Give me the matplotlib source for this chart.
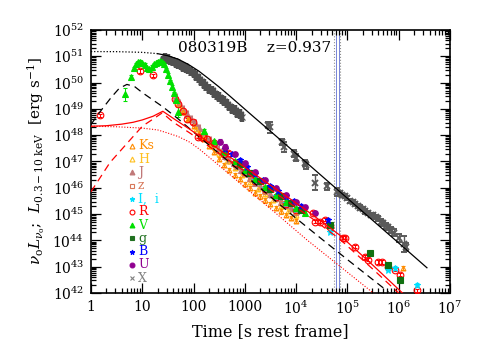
import numpy as np
import matplotlib
matplotlib.use('Agg')
import matplotlib.pyplot as plt

plt.rcParams['font.family'] = 'DejaVu Serif'
plt.rcParams['mathtext.fontset'] = 'dejavuserif'

# ---- data (log10 time [s], log10 luminosity [erg/s]) ----
# X-ray, early dense band
xe_lt = [1.40, 1.45, 1.50, 1.55, 1.60, 1.65, 1.70, 1.75, 1.80, 1.85, 1.90, 1.95, 2.00, 2.05, 2.10, 2.15,
         2.20, 2.25, 2.30, 2.35, 2.40, 2.45, 2.50, 2.55, 2.60, 2.65, 2.70, 2.75, 2.80, 2.85, 2.90, 2.95]
xe_ll = [50.85, 50.95, 50.90, 50.85, 50.80, 50.75, 50.70, 50.65, 50.60, 50.55, 50.50, 50.42, 50.35, 50.25, 50.15, 50.05,
         49.95, 49.85, 49.75, 49.70, 49.60, 49.50, 49.45, 49.35, 49.30, 49.20, 49.10, 49.00, 48.95, 48.85, 48.80, 48.70]
# X-ray, later points
xl_lt = [3.45, 3.50, 3.72, 3.76, 3.96, 4.00, 4.17, 4.20, 4.37, 4.60, 4.80,
         4.85, 4.90, 4.95, 5.00, 5.05, 5.10, 5.15, 5.20, 5.25, 5.30, 5.35, 5.40, 5.45, 5.50, 5.55, 5.60,
         5.65, 5.70, 5.75, 5.80, 5.85, 5.90, 6.00, 6.10, 6.15]
xl_ll = [48.40, 48.30, 47.75, 47.55, 47.30, 47.15, 46.95, 46.85, 46.20, 46.05, 45.85,
         45.80, 45.72, 45.68, 45.60, 45.50, 45.45, 45.38, 45.30, 45.25, 45.18, 45.10, 45.05, 44.98, 44.95, 44.88, 44.82,
         44.70, 44.65, 44.55, 44.50, 44.40, 44.30, 44.10, 43.85, 43.75]
xl_err = [0.12, 0.2, 0.12, 0.2, 0.12, 0.12, 0.12, 0.12, 0.3, 0.12, 0.15,
          0.08, 0.08, 0.08, 0.08, 0.08, 0.08, 0.08, 0.08, 0.08, 0.08, 0.08, 0.08, 0.08, 0.08, 0.08, 0.1,
          0.1, 0.1, 0.1, 0.1, 0.1, 0.12, 0.15, 0.3, 0.15]

# optical / NIR filters
ks_lt = [1.7, 1.8, 1.9, 2.0, 2.1, 2.2, 2.3, 2.4, 2.5, 2.6, 2.7, 2.8, 2.9, 3.0, 3.1, 3.2,
         3.3, 3.4, 3.5, 3.6, 3.7, 3.8, 3.9, 4.0, 6.08]
ks_ll = [49.2, 48.9, 48.6, 48.35, 48.1, 47.85, 47.6, 47.35, 47.1, 46.87, 46.67, 46.5, 46.32, 46.15, 45.98, 45.82,
         45.67, 45.52, 45.38, 45.23, 45.1, 44.97, 44.85, 44.75, 42.95]
h_lt = [1.75, 1.9, 2.05, 2.2, 2.35, 2.5, 2.65, 2.8, 2.95, 3.1, 3.25, 3.4, 3.55, 3.7, 3.85, 4.0]
h_ll = [49.0, 48.6, 48.23, 47.9, 47.6, 47.3, 47.01, 46.75, 46.49, 46.23, 45.97, 45.75, 45.53, 45.32, 45.13, 44.95]
j_lt = [1.65, 1.72, 1.8, 1.88, 1.95, 2.02, 2.1, 2.18, 2.25, 2.32, 2.4, 2.48, 2.55, 2.62, 2.7,
        2.78, 2.85, 2.92, 3.0, 3.1, 3.2, 3.3, 3.4, 3.5, 3.6, 3.7, 3.8, 3.9, 4.0]
j_ll = [49.45, 49.24, 49.0, 48.8, 48.62, 48.45, 48.27, 48.1, 47.95, 47.81, 47.65, 47.49, 47.35, 47.21, 47.07,
        46.93, 46.81, 46.69, 46.55, 46.38, 46.2, 46.05, 45.9, 45.75, 45.6, 45.47, 45.35, 45.22, 45.1]
z_lt = [2.5, 2.8, 3.1, 3.4, 3.7, 4.0]
z_ll = [47.4, 46.85, 46.33, 45.85, 45.42, 45.05]
i_lt = [3.0, 3.2, 3.4, 3.6, 3.8, 4.0, 4.66, 5.79, 5.93, 6.36]
i_ll = [46.63, 46.28, 45.98, 45.68, 45.43, 45.18, 44.33, 42.88, 42.95, 42.31]
r_lt = [0.175, 0.955, 1.21, 1.64, 1.70, 1.79, 1.87, 1.99, 2.09, 2.18, 2.26, 2.4, 2.6, 2.67, 2.8, 3.0, 3.2, 3.4,
        3.6, 3.8, 4.0, 4.33, 4.37, 4.46, 4.56, 4.62, 4.66, 4.91, 4.95, 5.15, 5.34, 5.40, 5.60, 5.67, 5.79,
        5.93, 6.02, 6.36]
r_ll = [48.76, 50.44, 50.28, 49.37, 49.18, 48.91, 48.6, 48.49, 47.95, 47.92, 47.84, 47.70, 47.30, 47.34, 46.95,
        46.60, 46.25, 45.95, 45.65, 45.40, 45.15, 45.05, 44.71, 44.71, 44.79, 44.60, 44.52, 44.10, 44.10, 43.76,
        43.37, 43.26, 43.18, 43.18, 42.99, 42.88, 42.69, 42.11]
v_lt = [0.66, 0.78, 0.84, 0.88, 0.92, 0.96, 1.0, 1.05, 1.1, 1.14, 1.18, 1.22, 1.26, 1.3, 1.34, 1.38, 1.42,
        1.46, 1.5, 1.54, 1.58, 1.62, 1.66, 1.70, 2.2, 2.4, 2.6, 2.8, 3.0, 3.2, 3.4, 3.6, 3.8, 4.0, 4.17]
v_ll = [49.56, 50.2, 50.55, 50.7, 50.78, 50.8, 50.75, 50.68, 50.55, 50.5, 50.6, 50.7, 50.75, 50.8, 50.82, 50.78,
        50.7, 50.5, 50.3, 50.05, 49.85, 49.6, 49.35, 48.9, 48.17, 47.77, 47.37, 47.02, 46.67, 46.32, 46.02,
        45.72, 45.47, 45.22, 45.05]
v_err = [0.25, 0.08, 0.05, 0.05, 0.05, 0.05, 0.05, 0.05, 0.05, 0.05, 0.05, 0.05, 0.05, 0.05, 0.05, 0.05, 0.05,
         0.05, 0.05, 0.05, 0.05, 0.05, 0.05, 0.2, 0.05, 0.05, 0.05, 0.05, 0.05, 0.05, 0.05, 0.05, 0.05, 0.05, 0.05]
g_lt = [2.9, 3.1, 3.3, 3.5, 3.7, 3.9, 4.1, 4.66, 5.44, 5.79, 6.02]
g_ll = [46.92, 46.58, 46.25, 45.95, 45.67, 45.42, 45.17, 44.6, 43.53, 43.07, 42.5]
b_lt = [2.61, 2.75, 2.9, 3.05, 3.2, 3.35, 3.5, 3.65, 3.8, 3.95, 4.1, 4.62]
b_ll = [47.46, 47.3, 47.04, 46.78, 46.52, 46.29, 46.07, 45.86, 45.67, 45.48, 45.29, 44.79]
u_lt = [2.52, 2.61, 2.8, 3.0, 3.2, 3.4, 3.6, 3.8, 4.0, 4.17, 4.37]
u_ll = [47.76, 47.57, 47.28, 46.93, 46.6, 46.28, 45.98, 45.72, 45.47, 45.28, 45.05]

# model curves
xmod_lt = [0, 0.5, 1.0, 1.3, 1.5, 1.7, 1.9, 2.1, 2.3, 2.5, 2.7, 2.9, 3.2, 3.6, 4.0, 4.5, 5.0, 5.5, 6.0, 6.55]
xmod_ll = [51.18, 51.176, 51.15, 51.10, 51.02, 50.89, 50.69, 50.44, 50.14, 49.83, 49.50, 49.16, 48.65, 47.98,
           47.30, 46.45, 45.60, 44.75, 43.90, 42.96]
kdash_lt = [0, 0.2, 0.4, 0.55, 0.7, 0.85, 1.0, 1.2, 1.4, 1.7, 2.0, 2.5, 3.0, 3.5, 4.0, 4.5, 5.0, 5.5, 5.8]
kdash_ll = [48.41, 48.95, 49.45, 49.78, 49.93, 49.85, 49.62, 49.35, 49.08, 48.62, 48.12, 47.3, 46.48, 45.66,
            44.84, 44.05, 43.27, 42.5, 42.04]
rsol_lt = [0, 0.3, 0.6, 0.82, 1.0, 1.21, 1.4, 1.65, 1.93, 2.5, 3.0, 3.5, 4.0, 4.3, 4.85, 5.5, 6.1]
rsol_ll = [48.34, 48.36, 48.42, 48.49, 48.58, 48.72, 48.91, 48.58, 48.22, 47.45, 46.78, 46.1, 45.42, 45.0,
           44.2, 43.05, 41.95]
rdash_lt = [0, 0.37, 1.0, 1.2, 1.39, 1.6, 1.93, 2.5, 3.0, 3.5, 4.0, 4.3, 4.85, 5.5, 6.08]
rdash_ll = [45.85, 46.96, 48.34, 48.6, 48.85, 48.5, 48.08, 47.3, 46.62, 45.93, 45.25, 44.85, 44.05, 42.9, 41.85]
rdot_lt = [0, 0.5, 1.0, 1.3, 1.5, 1.7, 1.93, 2.12, 2.6, 3.1, 3.6, 4.21, 4.8, 5.44, 5.6]
rdot_ll = [48.34, 48.32, 48.27, 48.2, 48.08, 47.95, 47.73, 47.46, 46.68, 45.86, 45.04, 44.02, 43.1, 42.1, 41.85]

vlines_gray = [5.46e4, 7.1e4]
vlines_blue = [6.1e4, 6.7e4]

legend_labels = ['Ks', 'H', 'J', 'z', 'I,  i', 'R', 'V', 'g', 'B', 'U', 'X']
legend_colors = ['#FF8C00', '#FFC020', '#C07878', '#D8785A', '#00E0FF', '#FF0000',
                 '#00E000', '#207020', '#0000FF', '#900090', '#808080']
legend_markers = ['^', '^', '^', 's', '*', 'o', '^', 's', '*', 'o', 'x']
legend_filled = [False, False, True, False, True, False, True, True, True, True, True]


def dex_err(ll, err):
    ll = np.array(ll, dtype=float)
    e = np.broadcast_to(np.array(err, dtype=float), ll.shape)
    L = 10 ** ll
    return L, [L - 10 ** (ll - e), 10 ** (ll + e) - L]


def plot_set(ax, lt, ll, err, color, marker, ms, filled, lw=0.7, cap=1.2, z=3, mew=0.8):
    L, yerr = dex_err(ll, err)
    ax.errorbar(10 ** np.array(lt), L, yerr=yerr, fmt=marker, color=color, ms=ms,
                mfc=color if filled else 'none', mec=color, mew=mew,
                elinewidth=lw, capsize=cap, zorder=z)


fig = plt.figure(figsize=(4.91, 3.60), dpi=100)
ax = fig.add_axes([0.1853, 0.1861, 0.7312, 0.7306])
ax.set_xscale('log')
ax.set_yscale('log')
ax.set_xlim(1, 1e7)
ax.set_ylim(1e42, 1e52)

# vertical band
for v in vlines_gray:
    ax.axvline(v, color='#909090', ls=':', lw=0.8, zorder=1)
for v in vlines_blue:
    ax.axvline(v, color='#6070D0', ls='-', lw=0.6, zorder=1)

# X-ray data
plot_set(ax, xe_lt, xe_ll, 0.18, '#505050', 'x', 4, True, lw=3.2, cap=0, z=2)
plot_set(ax, xl_lt, xl_ll, xl_err, '#5a5a5a', 'x', 4, True, lw=1.0, cap=2, z=2, mew=1.4)

# model curves
xm_t = 10 ** np.array(xmod_lt)
xm_L = 10 ** np.array(xmod_ll)
ax.plot(xm_t[:4], xm_L[:4], color='k', ls=(0, (1, 1.5)), lw=0.9, zorder=4)
ax.plot(xm_t[3:], xm_L[3:], color='k', ls='-', lw=0.9, zorder=4)
ax.plot(10 ** np.array(kdash_lt), 10 ** np.array(kdash_ll), color='k', ls=(0, (6, 4)), lw=0.9, zorder=4)
ax.plot(10 ** np.array(rsol_lt), 10 ** np.array(rsol_ll), color='red', ls='-', lw=0.9, zorder=4)
ax.plot(10 ** np.array(rdash_lt), 10 ** np.array(rdash_ll), color='red', ls=(0, (6, 4)), lw=0.9, zorder=4)
ax.plot(10 ** np.array(rdot_lt), 10 ** np.array(rdot_ll), color='red', ls=(0, (1, 1.5)), lw=0.8, zorder=4)

# optical data
plot_set(ax, j_lt, j_ll, 0.15, legend_colors[2], '^', 4, True, lw=2.2, cap=0)
plot_set(ax, h_lt, h_ll, 0.08, legend_colors[1], '^', 3.5, False)
plot_set(ax, ks_lt, ks_ll, 0.08, legend_colors[0], '^', 3.5, False)
plot_set(ax, z_lt, z_ll, 0.06, legend_colors[3], 's', 3.2, False)
plot_set(ax, r_lt, r_ll, 0.06, legend_colors[5], 'o', 4.8, False)
plot_set(ax, i_lt, i_ll, 0.06, legend_colors[4], '*', 5, True)
plot_set(ax, v_lt, v_ll, v_err, legend_colors[6], '^', 4, True)
plot_set(ax, g_lt, g_ll, 0.08, '#107010', 's', 4, True)
plot_set(ax, b_lt, b_ll, 0.08, legend_colors[8], '*', 5, True)
plot_set(ax, u_lt, u_ll, 0.08, legend_colors[9], 'o', 4, True)

# legend
y0, dy = 0.559, 0.0502
for k, lab in enumerate(legend_labels):
    yy = y0 - k * dy
    c = legend_colors[k]
    ax.plot([0.114], [yy], transform=ax.transAxes, marker=legend_markers[k], ms=3.5,
            mfc=c if legend_filled[k] else 'none', mec=c, mew=0.8, ls='none', zorder=6)
    ax.text(0.131, yy, lab, transform=ax.transAxes, color=c, fontsize=9,
            va='center', ha='left', zorder=6)

ax.text(0.455, 0.932, '080319B    z=0.937', transform=ax.transAxes, ha='center', va='center',
        fontsize=11)

# ticks
xt = [1, 10, 100, 1000, 1e4, 1e5, 1e6, 1e7]
xtl = ['1', '10', '100', '1000', r'$10^4$', r'$10^5$', r'$10^6$', r'$10^7$']
ax.set_xticks(xt)
ax.set_xticklabels(xtl)
yt = [10.0 ** p for p in range(42, 53)]
ax.set_yticks(yt)
ax.set_yticklabels([r'$10^{%d}$' % p for p in range(42, 53)])
ax.xaxis.set_minor_locator(matplotlib.ticker.LogLocator(base=10, subs=np.arange(2, 10), numticks=20))
ax.yaxis.set_minor_locator(matplotlib.ticker.LogLocator(base=10, subs=np.arange(2, 10), numticks=30))
ax.xaxis.set_minor_formatter(matplotlib.ticker.NullFormatter())
ax.yaxis.set_minor_formatter(matplotlib.ticker.NullFormatter())
ax.tick_params(which='both', direction='in', top=True, right=True, width=0.9)
ax.tick_params(which='major', length=7, labelsize=10, pad=5)
ax.tick_params(which='minor', length=3.5)
for s in ax.spines.values():
    s.set_linewidth(1.2)

ax.set_xlabel('Time [s rest frame]', fontsize=11.5)
ax.set_ylabel(r'$\nu_{\rm o}L_{\nu_{\rm o}}$;  $L_{0.3-10\ \rm keV}$  [erg s$^{-1}$]', fontsize=11)

fig.savefig('out.png', dpi=100)
